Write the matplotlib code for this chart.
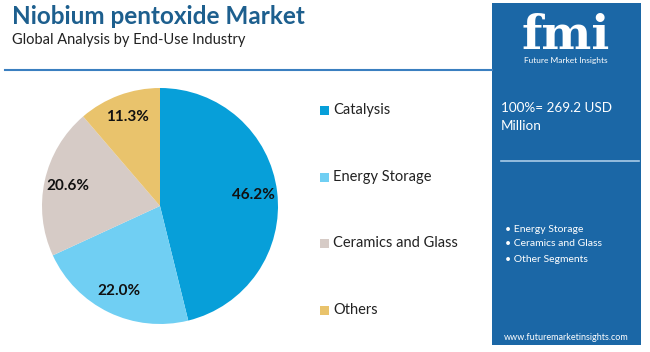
import matplotlib.pyplot as plt
from matplotlib.patches import Rectangle

plt.rcParams['font.family'] = ['Lato', 'DejaVu Sans']

segments = ['Catalysis', 'Energy Storage', 'Ceramics and Glass', 'Others']
shares = [46.2, 22.0, 20.6, 11.3]
colors = ['#079fd9', '#70cff3', '#d6cbc6', '#e9c36c']
side_bullets = ['Energy Storage', 'Ceramics and Glass', 'Other Segments']

W, H = 650, 352
fig = plt.figure(figsize=(6.5, 3.52), dpi=100)
fig.patch.set_facecolor('white')

def fx(px):
    return px / W

def fy(py):
    return 1 - py / H

# header
fig.text(fx(12), fy(17), 'Niobium pentoxide Market', fontsize=17.5, fontweight='bold',
         color='#1d5f8e', va='center', ha='left')
fig.text(fx(12), fy(40), 'Global Analysis by End-Use Industry', fontsize=10.5,
         color='#222222', va='center', ha='left')
fig.add_artist(plt.Line2D([fx(5), fx(492)], [fy(70), fy(70)], color='#3a7fc0', lw=1.5))

# side panel
fig.add_artist(Rectangle((fx(492), fy(345)), fx(149), (345 - 3) / H,
                         transform=fig.transFigure, facecolor='#1b67a6', edgecolor='none'))
fig.text(fx(566), fy(36), 'fmi', fontsize=34, fontweight='bold', color='white',
         ha='center', va='center', family='DejaVu Serif')
fig.text(fx(566), fy(61), 'Future Market Insights', fontsize=6, color='white',
         ha='center', va='center')
fig.text(fx(501), fy(108), '100%= 269.2 USD', fontsize=9.7, color='white', va='center')
fig.text(fx(501), fy(126), 'Million', fontsize=9.7, color='white', va='center')
fig.add_artist(plt.Line2D([fx(501), fx(639)], [fy(161), fy(161)], color='#a9cbe8', lw=1.2))
for lab, y in zip(side_bullets, [229, 243, 260]):
    fig.text(fx(505), fy(y), '\u2022 ' + lab, fontsize=7.5, color='white', va='center')
fig.text(fx(566), fy(337), 'www.futuremarketinsights.com', fontsize=6.5, color='white',
         ha='center', va='center')

# pie
cx, cy, r = 160, 206, 118
ax = fig.add_axes([fx(cx - r), fy(cy + r), 2 * r / W, 2 * r / H])
wedges, texts, autotexts = ax.pie(shares, colors=colors, startangle=90, counterclock=False,
                                  autopct='%.1f%%', pctdistance=0.8,
                                  wedgeprops=dict(linewidth=0))
for t in autotexts:
    t.set_fontsize(11)
    t.set_fontweight('bold')
    t.set_color('#111111')
ax.set_xlim(-1, 1)
ax.set_ylim(-1, 1)
ax.set_aspect('equal')

# legend
for lab, col, y in zip(segments, colors, [110, 177, 243, 310]):
    fig.add_artist(Rectangle((fx(320), fy(y + 5)), 9 / W, 9 / H, transform=fig.transFigure,
                             facecolor=col, edgecolor='none'))
    fig.text(fx(333), fy(y), lab, fontsize=10.5, color='#222222', va='center', ha='left')

fig.savefig('out.png', dpi=100)
